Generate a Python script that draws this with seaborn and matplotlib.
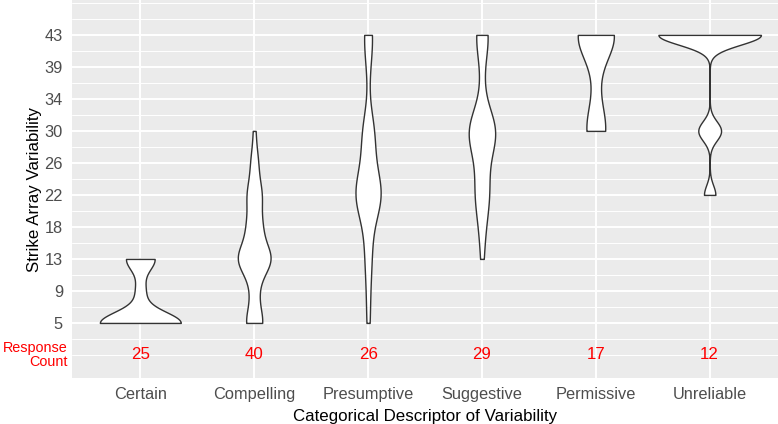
import numpy as np
import pandas as pd
import seaborn as sns
import matplotlib.pyplot as plt
import matplotlib.transforms as mtransforms

categories = ["Certain", "Compelling", "Presumptive", "Suggestive", "Permissive", "Unreliable"]
response_counts = [25, 40, 26, 29, 17, 12]
level_labels = ["5", "9", "13", "18", "22", "26", "30", "34", "39", "43"]

# number of responses at each variability level (5, 9, 13, ... 43)
certain_counts = [17, 2, 6, 0, 0, 0, 0, 0, 0, 0]
compelling_counts = [7, 3, 14, 6, 6, 3, 1, 0, 0, 0]
presumptive_counts = [1, 1, 2, 2, 9, 3, 4, 0, 1, 3]
suggestive_counts = [0, 0, 1, 2, 5, 3, 11, 1, 1, 5]
permissive_counts = [0, 0, 0, 0, 0, 0, 5, 1, 1, 10]
unreliable_counts = [0, 0, 0, 0, 1, 0, 2, 0, 0, 9]

all_counts = [certain_counts, compelling_counts, presumptive_counts,
              suggestive_counts, permissive_counts, unreliable_counts]

rows = []
for cat, counts in zip(categories, all_counts):
    for level, n in enumerate(counts):
        rows += [(cat, level)] * n
df = pd.DataFrame(rows, columns=["descriptor", "level"])


def nrd0(kde):
    # R's default bandwidth (bw.nrd0), returned as a factor for scipy
    x = kde.dataset.ravel()
    sd = x.std(ddof=1)
    q1, q3 = np.percentile(x, [25, 75])
    lo = min(sd, (q3 - q1) / 1.34)
    if lo == 0:
        lo = sd
    return 0.9 * lo * len(x) ** -0.2 / sd


sns.set_style("darkgrid", {"axes.facecolor": "#EBEBEB", "grid.color": "white"})
plt.rcParams["font.family"] = ["Liberation Sans", "DejaVu Sans"]

fig = plt.figure(figsize=(7.78, 4.24), dpi=100)
ax = fig.add_axes([72 / 778, 46 / 424, 706 / 778, 378 / 424])

sns.violinplot(data=df, x="descriptor", y="level", order=categories,
               density_norm="area", cut=0, inner=None, width=0.9,
               bw_method=nrd0, gridsize=512, color="white", saturation=1,
               linecolor="#333333", linewidth=1.0, ax=ax)

for i, n in enumerate(response_counts):
    ax.text(i, -1, str(n), color="red", ha="center", va="center", fontsize=12.2)

trans = mtransforms.blended_transform_factory(ax.transAxes, ax.transData)
ax.text(-0.006, -1, "Response\nCount", transform=trans, color="red",
        ha="right", va="center", multialignment="right", fontsize=10.4,
        linespacing=1.05, clip_on=False)

ax.set_xlim(-0.6, 5.6)
ax.set_ylim(-1.72, 10.09)
ax.set_yticks(range(10))
ax.set_yticklabels(level_labels)
minor_y = [-1, -0.5] + [k + 0.5 for k in range(9)] + [9.5, 10]
ax.set_yticks(minor_y, minor=True)

ax.grid(True, which="major", color="white", linewidth=1.4)
ax.grid(True, which="minor", axis="y", color="white", linewidth=0.7)
ax.set_axisbelow(True)
for s in ax.spines.values():
    s.set_visible(False)

ax.tick_params(axis="both", which="major", length=4, width=1, color="#333333",
               labelcolor="#4D4D4D", labelsize=11.8, pad=2.5)
ax.tick_params(axis="y", which="minor", length=0)

ax.set_xlabel("Categorical Descriptor of Variability", fontsize=12.2, color="black", labelpad=5)
ax.set_ylabel("Strike Array Variability", fontsize=12.2, color="black", labelpad=2)

fig.savefig("out.png", dpi=100)
